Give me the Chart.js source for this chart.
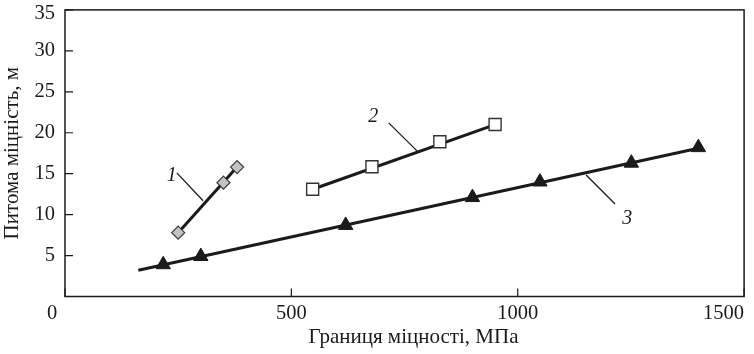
<!DOCTYPE html>
<html>
<head>
<meta charset="utf-8">
<script src="https://cdn.jsdelivr.net/npm/chart.js@4.4.1/dist/chart.umd.min.js"></script>
<style>
  html, body { margin: 0; padding: 0; background: #fff; }
  #wrap { width: 754px; height: 354px; }
</style>
</head>
<body>
<div id="wrap"><canvas id="chart" width="754" height="354"></canvas></div>
<script>
const xTicks = [0, 500, 1000, 1500];
const yTicks = [5, 10, 15, 20, 25, 30, 35];

// curve 1 (grey diamonds)
const s1x = [250, 350, 380];
const s1y = [7.8, 13.9, 15.8];
// curve 2 (open squares)
const s2x = [547, 678, 828, 950];
const s2y = [13.1, 15.85, 18.9, 21.0];
// curve 3 (black triangles)
const s3x = [217, 300, 620, 900, 1049, 1251, 1399];
const s3y = [3.9, 4.9, 8.7, 12.1, 14.0, 16.3, 18.2];

// straight lines drawn through each curve
const f1x = [250, 380];
const f1y = [7.8, 15.8];
const f2x = [547, 950];
const f2y = [13.1, 21.0];
const f3x = [162, 1399];
const f3y = [3.2, 18.1];

// curve names and their leader lines (data units)
const curveNames = ["1", "2", "3"];
const nameX = [236, 681, 1242];
const nameY = [14.7, 21.9, 9.5];
const leadX = [[247, 305], [715, 778], [1151, 1215]];
const leadY = [[15.1, 11.7], [21.2, 17.75], [14.84, 11.29]];

const ink = "#1a1a1a";
const serif = '"Liberation Serif", "Times New Roman", serif';
Chart.defaults.font.family = serif;
Chart.defaults.color = ink;

const pts = (xs, ys) => xs.map((x, i) => ({ x: x, y: ys[i] }));

const lineSet = (xs, ys, w) => ({
  data: pts(xs, ys),
  showLine: true,
  borderColor: ink,
  borderWidth: w,
  pointRadius: 0,
  fill: false
});

const datasets = [
  { data: pts(s1x, s1y), pointStyle: "rectRot", pointRadius: 6.5, backgroundColor: "#c2c2c2", borderColor: "#3a3a3a", borderWidth: 1.2 },
  { data: pts(s2x, s2y), pointStyle: "rect", pointRadius: 8.5, backgroundColor: "#ffffff", borderColor: "#333333", borderWidth: 1.4 },
  { data: pts(s3x, s3y), pointStyle: "triangle", pointRadius: 8.3, backgroundColor: ink, borderColor: ink, borderWidth: 1 },
  lineSet(f1x, f1y, 3),
  lineSet(f2x, f2y, 3),
  lineSet(f3x, f3y, 3)
];
leadX.forEach((lx, i) => datasets.push(lineSet(lx, leadY[i], 1.3)));

const framePlugin = {
  id: "frame",
  afterDraw(chart) {
    const { ctx, chartArea: a, scales } = chart;
    ctx.save();
    ctx.strokeStyle = ink;
    ctx.lineWidth = 1.5;
    ctx.strokeRect(a.left, a.top, a.right - a.left, a.bottom - a.top);

    // ticks point inwards
    ctx.lineWidth = 1.2;
    ctx.beginPath();
    yTicks.forEach(v => {
      const y = scales.y.getPixelForValue(v);
      ctx.moveTo(a.left, y);
      ctx.lineTo(a.left + 8, y);
    });
    xTicks.forEach(v => {
      const x = scales.x.getPixelForValue(v);
      ctx.moveTo(x, a.bottom);
      ctx.lineTo(x, a.bottom - 8);
    });
    ctx.stroke();

    ctx.fillStyle = ink;
    ctx.font = "20.5px " + serif;
    ctx.textBaseline = "middle";
    xTicks.forEach((v, i) => {
      let x = scales.x.getPixelForValue(v);
      ctx.textAlign = "center";
      if (i === 0) x -= 13;
      if (i === xTicks.length - 1) ctx.textAlign = "right";
      ctx.fillText(String(v), x, a.bottom + 17);
    });
    ctx.textAlign = "right";
    yTicks.forEach((v, i) => {
      let y = scales.y.getPixelForValue(v);
      if (i === yTicks.length - 1) y += 4;
      ctx.fillText(String(v), a.left - 10, y);
    });
    ctx.textAlign = "center";
    ctx.font = "21px " + serif;
    ctx.fillText("Границя міцності, МПа", (a.left + a.right) / 2 + 9, a.bottom + 41);

    ctx.font = "italic 20px " + serif;
    curveNames.forEach((t, i) => {
      ctx.fillText(t, scales.x.getPixelForValue(nameX[i]), scales.y.getPixelForValue(nameY[i]));
    });
    ctx.restore();
  }
};

new Chart(document.getElementById("chart"), {
  type: "scatter",
  data: { datasets: datasets },
  options: {
    responsive: false,
    animation: false,
    layout: { padding: { top: 8.5, right: 8, left: 0, bottom: 0 } },
    plugins: { legend: { display: false }, tooltip: { enabled: false } },
    scales: {
      x: {
        type: "linear",
        min: 0,
        max: 1500,
        grid: { display: false, drawTicks: false },
        border: { display: false },
        ticks: { display: false, stepSize: 500 },
        afterFit(s) {
          s.height = 57.5;
          s.paddingLeft = 0;
          s.paddingRight = 0;
        }
      },
      y: {
        min: 0,
        max: 35,
        grid: { display: false, drawTicks: false },
        border: { display: false },
        ticks: { display: false, stepSize: 5 },
        title: {
          display: true,
          text: "Питома міцність, м",
          color: ink,
          font: { size: 21 },
          padding: { top: 0, bottom: 0 }
        },
        afterFit(s) {
          s.width = 65;
          s.paddingTop = 0;
          s.paddingBottom = 0;
        }
      }
    }
  },
  plugins: [framePlugin]
});
</script>
</body>
</html>
